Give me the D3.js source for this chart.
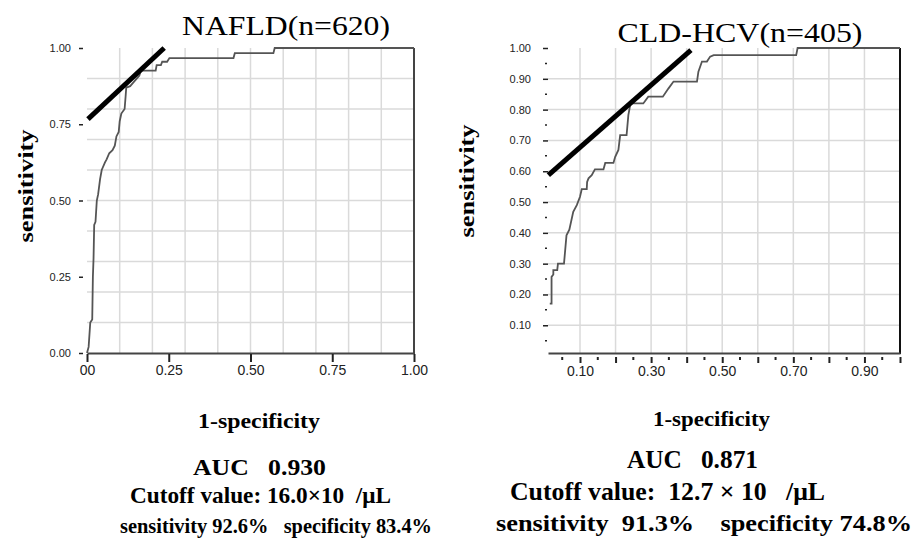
<!DOCTYPE html>
<html>
<head>
<meta charset="utf-8">
<script src="https://cdn.jsdelivr.net/npm/d3@7"></script>
<style>
  body { margin: 0; background: #fff; }
  text { white-space: pre; }
</style>
</head>
<body>
<div id="chart"></div>
<script>
// ROC curve for NAFLD (1-specificity, sensitivity)
var nafldFpr = [0, 0.005, 0.01, 0.016, 0.018, 0.02, 0.022, 0.026, 0.03, 0.034, 0.04, 0.045, 0.055, 0.06, 0.068, 0.078, 0.085, 0.09, 0.097, 0.1, 0.105, 0.115, 0.118, 0.12, 0.132, 0.14, 0.15, 0.16, 0.165, 0.21, 0.213, 0.226, 0.23, 0.245, 0.252, 0.448, 0.452, 0.57, 0.574, 1];
var nafldTpr = [0, 0.02, 0.10, 0.11, 0.25, 0.31, 0.42, 0.43, 0.50, 0.52, 0.57, 0.60, 0.625, 0.635, 0.655, 0.665, 0.68, 0.71, 0.725, 0.76, 0.785, 0.80, 0.84, 0.87, 0.875, 0.885, 0.897, 0.91, 0.926, 0.926, 0.944, 0.944, 0.955, 0.955, 0.967, 0.967, 0.983, 0.983, 1.0, 1.0];

// ROC curve for CLD-HCV
var hcvFpr = [0.015, 0.02, 0.02, 0.025, 0.025, 0.036, 0.038, 0.055, 0.062, 0.07, 0.081, 0.091, 0.10, 0.105, 0.119, 0.12, 0.124, 0.133, 0.142, 0.166, 0.171, 0.194, 0.199, 0.208, 0.213, 0.231, 0.236, 0.242, 0.278, 0.292, 0.333, 0.349, 0.363, 0.429, 0.433, 0.443, 0.457, 0.466, 0.476, 0.708, 0.712, 1.0];
var hcvTpr = [0.17, 0.17, 0.257, 0.265, 0.279, 0.279, 0.30, 0.30, 0.392, 0.41, 0.468, 0.49, 0.517, 0.542, 0.542, 0.565, 0.577, 0.587, 0.606, 0.606, 0.627, 0.627, 0.647, 0.669, 0.717, 0.717, 0.782, 0.82, 0.82, 0.842, 0.842, 0.869, 0.891, 0.891, 0.923, 0.956, 0.956, 0.972, 0.977, 0.977, 1.0, 1.0];

// tangent lines at the cutoff
var nafldTangentX = [0.003, 0.236];
var nafldTangentY = [0.767, 1.0];
var hcvTangentX = [0.011, 0.412];
var hcvTangentY = [0.587, 0.993];

// ticks
var nafldXTicks = [0, 0.25, 0.5, 0.75, 1];
var nafldXLabels = ["00", "0.25", "0.50", "0.75", "1.00"];
var nafldYTicks = [0, 0.25, 0.5, 0.75, 1];
var nafldYLabels = ["0.00", "0.25", "0.50", "0.75", "1.00"];
var hcvMajorTicks = [0.1, 0.2, 0.3, 0.4, 0.5, 0.6, 0.7, 0.8, 0.9, 1.0];
var hcvMinorTicks = [0.05, 0.15, 0.25, 0.35, 0.45, 0.55, 0.65, 0.75, 0.85, 0.95];
var hcvXLabels = ["0.10", "", "0.30", "", "0.50", "", "0.70", "", "0.90", ""];
var hcvYLabels = ["0.10", "0.20", "0.30", "0.40", "0.50", "0.60", "0.70", "0.80", "0.90", "1.00"];
var gridTicks = [0.1, 0.2, 0.3, 0.4, 0.5, 0.6, 0.7, 0.8, 0.9];

var svg = d3.select("#chart").append("svg")
            .attr("width", 915)
            .attr("height", 539);

var serif = "'Liberation Serif', 'Times New Roman', serif";
var narrow = "'Liberation Sans Narrow', 'Arial Narrow', 'Liberation Sans', sans-serif";
var sans = "'Liberation Sans', Arial, sans-serif";

function zip(xs, ys) {
    return xs.map(function (x, i) { return [x, ys[i]]; });
}

function drawRoc(opt) {
    var xScale = d3.scaleLinear().domain(opt.xDomain).range([opt.left, opt.right]);
    var yScale = d3.scaleLinear().domain(opt.yDomain).range([opt.bottom, opt.top]);
    var g = svg.append("g");

    // grid
    g.selectAll(".vgrid").data(gridTicks).enter().append("line")
     .attr("x1", function (d) { return xScale(d); })
     .attr("x2", function (d) { return xScale(d); })
     .attr("y1", opt.top).attr("y2", opt.bottom)
     .attr("stroke", "#dadada").attr("stroke-width", 1.5);
    g.selectAll(".hgrid").data(gridTicks).enter().append("line")
     .attr("y1", function (d) { return yScale(d); })
     .attr("y2", function (d) { return yScale(d); })
     .attr("x1", opt.left).attr("x2", opt.right)
     .attr("stroke", "#dadada").attr("stroke-width", 1.5);

    // right border
    g.append("line")
     .attr("x1", opt.right).attr("x2", opt.right)
     .attr("y1", opt.top).attr("y2", opt.bottom + 1)
     .attr("stroke", opt.borderColor).attr("stroke-width", 2);

    // x axis
    var xAxis = d3.axisBottom(xScale)
                  .tickValues(opt.xTicks)
                  .tickFormat(function (d, i) { return opt.xLabels[i]; })
                  .tickSize(opt.xTickSize)
                  .tickSizeOuter(0);
    var gx = g.append("g")
              .attr("transform", "translate(0," + opt.bottom + ")")
              .call(xAxis);
    gx.select(".domain").attr("stroke", "#444").attr("stroke-width", 2);
    gx.selectAll(".tick line").attr("stroke", "#222").attr("stroke-width", 2)
      .attr("y1", opt.xTickGap).attr("y2", opt.xTickGap + opt.xTickSize);
    gx.selectAll(".tick text")
      .attr("y", opt.xTickGap + opt.xTickSize + 3)
      .style("font-family", sans).style("font-size", "14px").attr("fill", "#222");

    if (opt.xMinor) {
        g.selectAll(".xminor").data(opt.xMinor).enter().append("line")
         .attr("x1", function (d) { return xScale(d); })
         .attr("x2", function (d) { return xScale(d); })
         .attr("y1", opt.bottom + 4).attr("y2", opt.bottom + 7)
         .attr("stroke", "#222").attr("stroke-width", 2);
    }

    // y axis: detached short ticks, no domain line
    var yAxis = d3.axisLeft(yScale)
                  .tickValues(opt.yTicks)
                  .tickFormat(function (d, i) { return opt.yLabels[i]; })
                  .tickSize(opt.yTickSize)
                  .tickPadding(opt.yPad);
    var gy = g.append("g")
              .attr("transform", "translate(" + (opt.left - opt.yTickGap) + ",0)")
              .call(yAxis);
    gy.select(".domain").remove();
    gy.selectAll(".tick line").attr("stroke", "#222").attr("stroke-width", 1.5);
    gy.selectAll(".tick text")
      .style("font-family", narrow).style("font-size", "11px").attr("fill", "#222");

    if (opt.yMinor) {
        g.selectAll(".yminor").data(opt.yMinor).enter().append("line")
         .attr("y1", function (d) { return yScale(d); })
         .attr("y2", function (d) { return yScale(d); })
         .attr("x1", opt.left - 3).attr("x2", opt.left - 1)
         .attr("stroke", "#222").attr("stroke-width", 1.5);
    }

    // ROC curve
    var lineGen = d3.line()
                    .x(function (d) { return xScale(d[0]); })
                    .y(function (d) { return yScale(d[1]); });
    g.append("path")
     .attr("d", lineGen(zip(opt.fpr, opt.tpr)))
     .attr("fill", "none")
     .attr("stroke", "#555")
     .attr("stroke-width", 1.8);

    // tangent line
    g.append("path")
     .attr("d", lineGen(zip(opt.tanX, opt.tanY)))
     .attr("fill", "none")
     .attr("stroke", "#000")
     .attr("stroke-width", 5);

    // title
    g.append("text")
     .attr("x", opt.titleX).attr("y", opt.titleY)
     .attr("text-anchor", "middle")
     .attr("textLength", opt.titleLen).attr("lengthAdjust", "spacingAndGlyphs")
     .style("font-family", serif).style("font-size", "28px")
     .text(opt.title);

    // y label
    g.append("text")
     .attr("transform", "translate(" + opt.yLabelX + "," + opt.yLabelY + ") rotate(-90)")
     .attr("text-anchor", "middle")
     .attr("textLength", 113).attr("lengthAdjust", "spacingAndGlyphs")
     .style("font-family", serif).style("font-size", "22px").style("font-weight", "bold")
     .text("sensitivity");

    // text block below
    opt.notes.forEach(function (n) {
        g.append("text")
         .attr("x", n.x).attr("y", n.y)
         .attr("text-anchor", "start")
         .attr("textLength", n.len).attr("lengthAdjust", "spacingAndGlyphs")
         .style("font-family", serif).style("font-size", n.size + "px").style("font-weight", "bold")
         .text(n.text);
    });
}

drawRoc({
    xDomain: [0, 1], yDomain: [0, 1],
    left: 87, right: 414, top: 48, bottom: 353,
    borderColor: "#444",
    xTicks: nafldXTicks, xLabels: nafldXLabels, xTickSize: 8, xTickGap: 1,
    yTicks: nafldYTicks, yLabels: nafldYLabels, yTickSize: 4, yTickGap: 4, yPad: 8,
    fpr: nafldFpr, tpr: nafldTpr,
    tanX: nafldTangentX, tanY: nafldTangentY,
    title: "NAFLD(n=620)", titleX: 286, titleY: 35, titleLen: 208,
    yLabelX: 33, yLabelY: 186,
    notes: [
        {text: "1-specificity", x: 198, y: 428, size: 21, len: 122},
        {text: "AUC   0.930", x: 193, y: 475, size: 24, len: 133},
        {text: "Cutoff value: 16.0\u00d710  /\u03bcL", x: 130, y: 503, size: 23, len: 261},
        {text: "sensitivity 92.6%   specificity 83.4%", x: 120, y: 533, size: 22, len: 312}
    ]
});

drawRoc({
    xDomain: [0.01, 1], yDomain: [0.01, 1],
    left: 548, right: 900, top: 48, bottom: 353,
    borderColor: "#111",
    xTicks: hcvMajorTicks, xLabels: hcvXLabels, xTickSize: 6, xTickGap: 4,
    xMinor: hcvMinorTicks,
    yTicks: hcvMajorTicks, yLabels: hcvYLabels, yTickSize: 5, yTickGap: 0, yPad: 12,
    yMinor: hcvMinorTicks,
    fpr: hcvFpr, tpr: hcvTpr,
    tanX: hcvTangentX, tanY: hcvTangentY,
    title: "CLD-HCV(n=405)", titleX: 740, titleY: 42, titleLen: 245,
    yLabelX: 474, yLabelY: 181,
    notes: [
        {text: "1-specificity", x: 653, y: 426, size: 22, len: 117},
        {text: "AUC   0.871", x: 627, y: 468, size: 25, len: 131},
        {text: "Cutoff value:  12.7 \u00d7 10   /\u03bcL", x: 510, y: 500, size: 25, len: 315},
        {text: "sensitivity  91.3%    specificity 74.8%", x: 496, y: 531, size: 24, len: 416}
    ]
});
</script>
</body>
</html>
